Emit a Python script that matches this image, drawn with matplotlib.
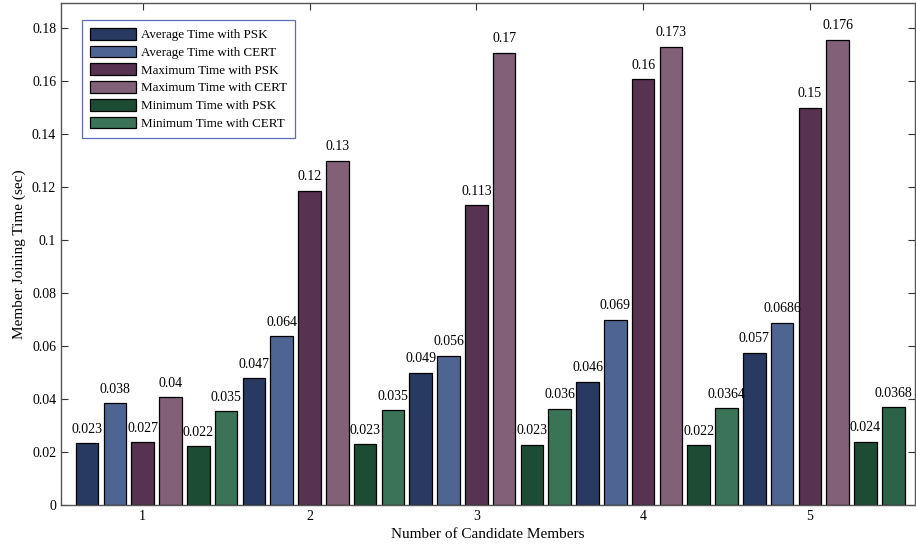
import numpy as np
import matplotlib
matplotlib.use("Agg")
import matplotlib.pyplot as plt
from matplotlib.ticker import FuncFormatter

plt.rcParams["font.family"] = ["Liberation Serif", "DejaVu Serif"]

# Data
groups = [1, 2, 3, 4, 5]
series_names = ["Average Time with PSK", "Average Time with CERT",
                "Maximum Time with PSK", "Maximum Time with CERT",
                "Minimum Time with PSK", "Minimum Time with CERT"]
colors = ["#283a62", "#4e6593", "#573251", "#826078", "#1c4d34", "#3a7356"]

avg_psk = [0.0234, 0.0479, 0.0499, 0.0465, 0.0575]
avg_cert = [0.0385, 0.0638, 0.0563, 0.0699, 0.0688]
max_psk = [0.0238, 0.1186, 0.1132, 0.1608, 0.1500]
max_cert = [0.0408, 0.1299, 0.1708, 0.1730, 0.1757]
min_psk = [0.0222, 0.0230, 0.0227, 0.0226, 0.0239]
min_cert = [0.0355, 0.0357, 0.0363, 0.0366, 0.0370]

avg_psk_lbl = ["0.023", "0.047", "0.049", "0.046", "0.057"]
avg_cert_lbl = ["0.038", "0.064", "0.056", "0.069", "0.0686"]
max_psk_lbl = ["0.027", "0.12", "0.113", "0.16", "0.15"]
max_cert_lbl = ["0.04", "0.13", "0.17", "0.173", "0.176"]
min_psk_lbl = ["0.022", "0.023", "0.023", "0.022", "0.024"]
min_cert_lbl = ["0.035", "0.035", "0.036", "0.0364", "0.0368"]

values = [avg_psk, avg_cert, max_psk, max_cert, min_psk, min_cert]
labels = [avg_psk_lbl, avg_cert_lbl, max_psk_lbl, max_cert_lbl, min_psk_lbl, min_cert_lbl]

fig = plt.figure(figsize=(9.16, 5.52), dpi=100)
ax = fig.add_axes([61 / 916, 1 - 505 / 552, (915 - 61) / 916, (505 - 3) / 552])

pitch = 1 / 6
width = 0.135
x = np.array(groups, dtype=float)
for s in range(6):
    xs = x + (s - 2) * pitch
    bars = ax.bar(xs, values[s], width=width, color=colors[s], edgecolor="black",
                  linewidth=0.9, label=series_names[s], zorder=2)
    for xi, v, t in zip(xs, values[s], labels[s]):
        ax.text(xi, v + 0.0028, t, ha="center", va="bottom", fontsize=10)
# last green bar is drawn a bit darker in the original
bars[-1].set_facecolor("#2c6247")

ax.set_xlim(0.51, 5.63)
ax.set_ylim(0, 0.1895)
ax.set_xticks(groups)
ax.set_yticks(np.arange(0, 0.181, 0.02))
ax.yaxis.set_major_formatter(FuncFormatter(lambda v, p: "0" if v == 0 else ("%g" % round(v, 2))))
ax.tick_params(direction="in", top=True, right=True, labelsize=10, length=5, color="#333333")
for sp in ax.spines.values():
    sp.set_color("#555555")
    sp.set_linewidth(1.0)

ax.set_xlabel("Number of Candidate Members", fontsize=11, labelpad=4)
ax.set_ylabel("Member Joining Time (sec)", fontsize=11, labelpad=4)

leg = ax.legend(loc="upper left", bbox_to_anchor=(0.0246, 0.966), borderaxespad=0,
                fontsize=9.4, frameon=True, fancybox=False, handlelength=3.5,
                handleheight=1.0, labelspacing=0.34, borderpad=0.6, handletextpad=0.45)
leg.get_frame().set_edgecolor("#3a4aa0")
leg.get_frame().set_linewidth(0.9)

plt.savefig("out.png", dpi=100)
